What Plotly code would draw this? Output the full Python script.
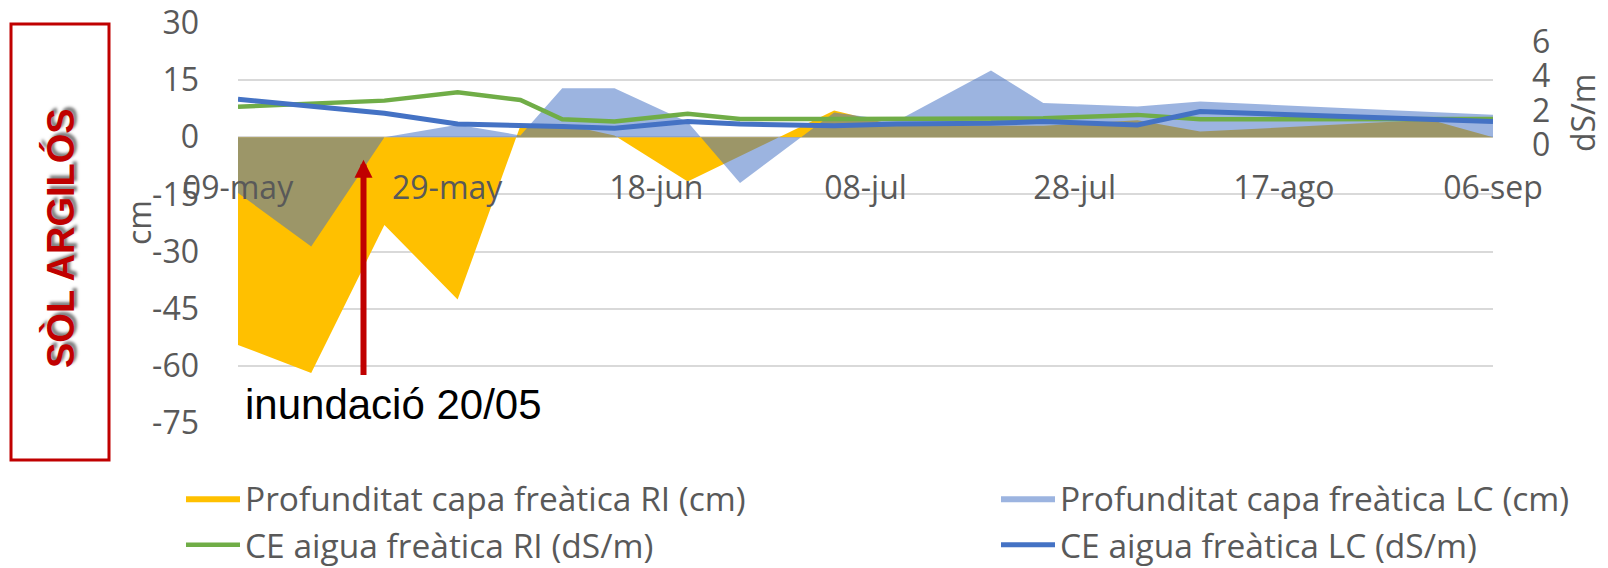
import plotly.graph_objects as go

# ---------------- data ----------------
fechas_ri = ["2019-05-09", "2019-05-16", "2019-05-23", "2019-05-30", "2019-06-05", "2019-06-09",
             "2019-06-14", "2019-06-21", "2019-07-05", "2019-07-11", "2019-07-20", "2019-07-25",
             "2019-08-03", "2019-08-09", "2019-08-31", "2019-09-06"]
prof_ri = [-54.5, -61.9, -23.0, -42.6, 3.0, 3.5, 0.5, -11.6, 7.0, 3.0, 3.0, 3.0, 4.5, 1.5, 4.6, 0.0]

fechas_lc = ["2019-05-09", "2019-05-16", "2019-05-23", "2019-05-30", "2019-06-05", "2019-06-09",
             "2019-06-14", "2019-06-21", "2019-06-26", "2019-07-05", "2019-07-11", "2019-07-20",
             "2019-07-25", "2019-08-03", "2019-08-09", "2019-09-06"]
prof_lc = [-14.6, -28.7, 0.0, 3.3, 0.5, 12.9, 12.9, 4.0, -12.0, 6.5, 4.3, 17.5, 9.0, 8.1, 9.4, 5.9]

fechas_ce = fechas_lc
ce_ri = [2.23, 2.40, 2.58, 3.07, 2.62, 1.50, 1.36, 1.81, 1.51, 1.51, 1.51, 1.50, 1.55, 1.75, 1.50, 1.51]
ce_lc = [2.66, 2.23, 1.85, 1.22, 1.16, 1.07, 0.97, 1.36, 1.22, 1.12, 1.22, 1.26, 1.36, 1.16, 1.94, 1.36]

tick_fechas = ["2019-05-09", "2019-05-29", "2019-06-18", "2019-07-08", "2019-07-28", "2019-08-17", "2019-09-06"]
tick_textos = ["09-may", "29-may", "18-jun", "08-jul", "28-jul", "17-ago", "06-sep"]
y_ticks = [30, 15, 0, -15, -30, -45, -60, -75]
y_tick_textos = ["30", "15", "0", "-15", "-30", "-45", "-60", "-75"]
y2_ticks = [0, 2, 4, 6]
y2_tick_textos = ["0", "2", "4", "6"]

fecha_inundacio = "2019-05-21"

# ---------------- layout geometry (px) ----------------
W, H = 1608, 568
L, R, T, B = 238, 1493, 23, 423
PW, PH = R - L, B - T


def px(xp):
    return (xp - L) / PW


def py(yp):
    return (B - yp) / PH


GREY = "#595959"
TICKFONT = dict(family="Open Sans, sans-serif", size=32, color=GREY)
LEGFONT = dict(family="Open Sans, sans-serif", size=33.5, color=GREY)

fig = go.Figure()

fig.add_trace(go.Scatter(
    x=fechas_ri, y=prof_ri, name="Profunditat capa freàtica RI (cm)",
    mode="lines", line=dict(width=0, color="#FFC000"), fill="tozeroy",
    fillcolor="#FFC000", legend="legend", legendgroup="a", hoverinfo="skip"))
fig.add_trace(go.Scatter(
    x=fechas_lc, y=prof_lc, name="Profunditat capa freàtica LC (cm)",
    mode="lines", line=dict(width=0, color="rgba(68,114,196,0.53)"), fill="tozeroy",
    fillcolor="rgba(68,114,196,0.53)", legend="legend2", legendgroup="b", hoverinfo="skip"))
fig.add_trace(go.Scatter(
    x=fechas_ce, y=ce_ri, name="CE aigua freàtica RI (dS/m)", yaxis="y2",
    mode="lines", line=dict(width=4.5, color="#70AD47"), legend="legend", legendgroup="c"))
fig.add_trace(go.Scatter(
    x=fechas_ce, y=ce_lc, name="CE aigua freàtica LC (dS/m)", yaxis="y2",
    mode="lines", line=dict(width=5, color="#4472C4"), legend="legend2", legendgroup="d"))

fig.update_layout(
    width=W, height=H,
    margin=dict(l=L, r=W - R, t=T, b=H - B, autoexpand=False),
    paper_bgcolor="white", plot_bgcolor="white",
    xaxis=dict(type="date", range=["2019-05-09", "2019-09-06"], tickvals=tick_fechas,
               ticktext=tick_textos, tickfont=TICKFONT, showgrid=False, showline=False,
               zeroline=False, anchor="free", position=py(166), ticks=""),
    yaxis=dict(range=[-75, 30], tickvals=y_ticks, ticktext=y_tick_textos, tickfont=TICKFONT,
               showgrid=True, gridcolor="#D9D9D9", gridwidth=1.5, zeroline=True,
               zerolinecolor="#D9D9D9", zerolinewidth=1.5, showline=False, ticks="",
               ticklabelstandoff=38),
    yaxis2=dict(range=[-16.19, 7.1], tickvals=y2_ticks, ticktext=y2_tick_textos,
                tickfont=TICKFONT, overlaying="y", side="right", showgrid=False,
                zeroline=False, showline=False, ticks="", ticklabelstandoff=38),
    legend=dict(x=px(181), y=py(470), xanchor="left", yanchor="top", orientation="v",
                font=LEGFONT, tracegroupgap=0, itemwidth=54, bgcolor="rgba(0,0,0,0)"),
    legend2=dict(x=px(996), y=py(470), xanchor="left", yanchor="top", orientation="v",
                 font=LEGFONT, tracegroupgap=0, itemwidth=54, bgcolor="rgba(0,0,0,0)"),
    showlegend=True,
)

annotations = [
    dict(text="cm", x=px(138), y=0.5, xref="paper", yref="paper", showarrow=False,
         textangle=-90, font=TICKFONT, xanchor="center", yanchor="middle"),
    dict(text="dS/m", x=px(1583), y=py(113), xref="paper", yref="paper", showarrow=False,
         textangle=-90, font=TICKFONT, xanchor="center", yanchor="middle"),
    dict(text="SÒL ARGILÓS", x=px(60), y=py(238), xref="paper", yref="paper", showarrow=False,
         textangle=-90, xanchor="center", yanchor="middle",
         font=dict(family="Liberation Sans, Arial, sans-serif", size=38, color="#C00000",
                   weight="bold", shadow="3px 3px 3px rgba(0,0,0,0.5)")),
    dict(text="inundació 20/05", x=px(393), y=py(404), xref="paper", yref="paper",
         showarrow=False, xanchor="center", yanchor="middle",
         font=dict(family="Liberation Sans, Arial, sans-serif", size=42, color="black")),
    dict(text="", x=fecha_inundacio, y=-5.9, ax=fecha_inundacio, ay=-62.8,
         xref="x", yref="y", axref="x", ayref="y", showarrow=True,
         arrowhead=2, arrowsize=0.6, arrowwidth=6, arrowcolor="#C00000", standoff=0),
]
fig.update_layout(annotations=annotations)

fig.add_shape(type="rect", xref="paper", yref="paper",
              x0=px(11), x1=px(109), y0=py(460), y1=py(24),
              line=dict(color="#C00000", width=3), fillcolor="rgba(0,0,0,0)")

fig.write_html("out.html", config={"displayModeBar": False})
